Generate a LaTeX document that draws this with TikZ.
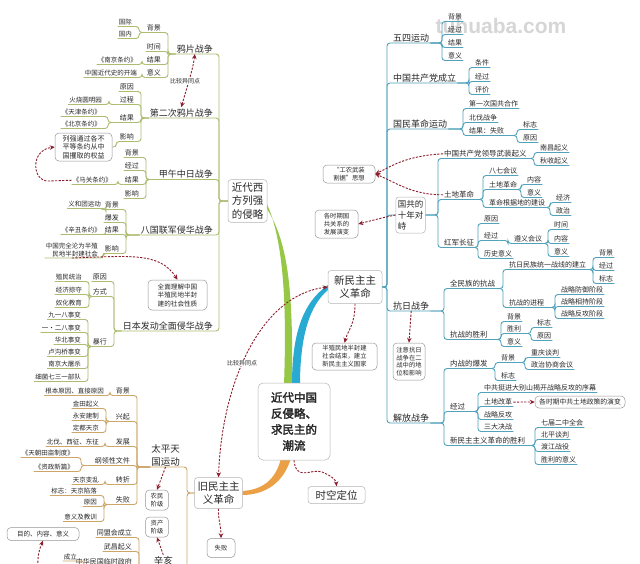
\documentclass[tikz,border=0pt]{standalone}
\usepackage{fontspec}
\setmainfont{Noto Sans CJK SC}
\newfontfamily\cjkb{Noto Sans CJK SC}[FakeBold=2.5]
\newfontfamily\wmfont{Liberation Sans}
\usetikzlibrary{calc,arrows.meta}
\definecolor{lgreen}{RGB}{172,188,112}
\definecolor{lblue}{RGB}{82,162,188}
\definecolor{lorange}{RGB}{204,166,104}
\definecolor{dred}{RGB}{140,30,45}
\definecolor{tx}{RGB}{40,40,40}
\definecolor{bxc}{RGB}{150,150,150}
\definecolor{bandg}{RGB}{150,200,70}
\definecolor{bandb}{RGB}{40,170,210}
\definecolor{bando}{RGB}{235,160,70}
\newcommand{\fs}[2]{\fontsize{#1}{#2}\selectfont}
\newcommand{\Lk}[4][5]{\draw[#2] (#3) -| ($(#4.south east)+(#1,0)$) -- (#4.south west);}
\newcommand{\Rk}[4][5]{\draw[#2] (#3) -| ($(#4.south west)+(-#1,0)$) -- (#4.south east);}
\begin{document}
\begin{tikzpicture}[x=1pt,y=-1pt,
 every node/.style={text=tx, inner xsep=1pt, inner ysep=1pt},
 LL/.style={anchor=south east}, RR/.style={anchor=south west},
 fA/.style={font=\fs{9}{11}},
 fB/.style={font=\fs{7.5}{9}},
 fC/.style={font=\fs{7}{8.5}},
 fD/.style={font=\fs{6.5}{8}},
 lg/.style={draw=lgreen, line width=0.9pt, rounded corners=3pt},
 bl/.style={draw=lblue, line width=0.9pt, rounded corners=3pt},
 ol/.style={draw=lorange, line width=0.9pt, rounded corners=3pt},
 lvbox/.style={draw=bxc!70, line width=0.5pt, rounded corners=3pt, fill=white, align=center, font=\fs{10.5}{13.5}, inner sep=3pt},
 cbox/.style={draw=bxc!70, line width=0.5pt, rounded corners=5pt, fill=white, align=center, font=\cjkb\fs{11.5}{16}, minimum width=72, minimum height=77},
 abox/.style={draw=bxc, line width=0.5pt, rounded corners=4pt, fill=white, align=center, font=\fs{6.3}{7.8}, inner xsep=3pt, inner ysep=2pt},
 lbl/.style={fill=white, font=\fs{6}{7}, inner sep=0.5pt},
 da/.style={draw=dred, line width=0.9pt, dash pattern=on 2.2pt off 1.4pt, -{Stealth[length=5pt,width=4.5pt]}},
 dda/.style={draw=dred, line width=0.9pt, dash pattern=on 2.2pt off 1.4pt, {Stealth[length=5pt,width=4.5pt]}-{Stealth[length=5pt,width=4.5pt]}}
]
\useasboundingbox (0,0) rectangle (640,563);
\fill[white] (0,0) rectangle (640,563);
% watermark
\node[text=gray!40, opacity=0.8, font=\wmfont\bfseries\fs{21}{21}] (wm) at (501,26) {tuhuaba.com};
% bands
\fill[bandg] (284,385) .. controls (287,300) and (283,240) .. (267,204) -- (267,209) .. controls (290,245) and (293,300) .. (292,385) -- cycle;
\fill[bandb] (292,385) .. controls (292,335) and (302,303) .. (328,285) -- (328,290) .. controls (310,305) and (300,335) .. (300,385) -- cycle;
\fill[bando] (281,458) .. controls (276,480) and (262,490) .. (242,491) -- (242,495) .. controls (266,495) and (284,482) .. (291,458) -- cycle;

% ===== main boxes
\node[cbox] (ct) at (294,421.5) {近代中国\\反侵略、\\求民主的\\潮流};
\node[lvbox, minimum width=39, minimum height=42] (jd) at (247.5,201) {近代西\\方列强\\的侵略};
\node[lvbox, minimum width=54, minimum height=33] (xm) at (355,287) {新民主主\\义革命};
\node[lvbox, minimum width=48, minimum height=31] (jm) at (218.5,493) {旧民主主\\义革命};
\node[lvbox, font=\fs{10.5}{12}, minimum width=57, minimum height=17, inner sep=1pt] (sk) at (336.5,495) {时空定位};
\node[abox, minimum width=28, minimum height=19] (sb) at (221,548) {失败};
\node[abox, font=\fs{6.3}{8}, minimum width=65, minimum height=27] (bzm) at (344.5,356.5) {半殖民地半封建\\社会结束，建立\\新民主主义国家};

% ===== left upper branch
\node[fA,LL] (yp) at (214,54) {鸦片战争};
\node[fA,LL] (de) at (214,118) {第二次鸦片战争};
\node[fA,LL] (jw) at (214,179.5) {甲午中日战争};
\node[fA,LL] (bg) at (214,235) {八国联军侵华战争};
\node[fA,LL] (rb) at (214,331) {日本发动全面侵华战争};
\Lk{lg}{jd.west}{yp}
\Lk{lg}{jd.west}{de}
\Lk{lg}{jd.west}{jw}
\Lk{lg}{jd.west}{bg}
\Lk{lg}{jd.west}{rb}

\node[fC,LL] (yp1) at (162,32.5) {背景};
\node[fC,LL] (yp2) at (162,51.5) {时间};
\node[fC,LL] (yp3) at (162,64.5) {结果};
\node[fC,LL] (yp4) at (162,77.5) {意义};
\node[fD,LL] (yp11) at (133,26.5) {国际};
\node[fD,LL] (yp12) at (133,38.5) {国内};
\node[fD,LL] (yp31) at (138,64.5) {《南京条约》};
\node[fD,LL] (yp41) at (138,77.5) {中国近代史的开端};
\Lk[6]{lg}{yp.south west}{yp1}
\Lk[6]{lg}{yp.south west}{yp2}
\Lk[6]{lg}{yp.south west}{yp3}
\Lk[6]{lg}{yp.south west}{yp4}
\Lk[6]{lg}{yp1.south west}{yp11}
\Lk[6]{lg}{yp1.south west}{yp12}
\Lk[4]{lg}{yp3.south west}{yp31}
\Lk[4]{lg}{yp4.south west}{yp41}

\node[fC,LL] (de1) at (135,91.5) {原因};
\node[fC,LL] (de2) at (135,104.5) {过程};
\node[fC,LL] (de3) at (135,122.5) {结果};
\node[fC,LL] (de4) at (135,141.5) {影响};
\node[fD,LL] (de21) at (103,104.5) {火烧圆明园};
\node[fD,LL] (de31) at (102,116.5) {《天津条约》};
\node[fD,LL] (de32) at (102,128.5) {《北京条约》};
\node[abox, font=\fs{7}{8.5}, minimum width=57, minimum height=28] (lq) at (83.5,147) {列强通过各不\\平等条约从中\\国攫取的权益};
\Lk[6]{lg}{de.south west}{de1}
\Lk[6]{lg}{de.south west}{de2}
\Lk[6]{lg}{de.south west}{de3}
\Lk[6]{lg}{de.south west}{de4}
\Lk[6]{lg}{de2.south west}{de21}
\Lk[6]{lg}{de3.south west}{de31}
\Lk[6]{lg}{de3.south west}{de32}
\draw[lg] (de4.south west) -| ($(lq.east)+(4,0)$) -- (lq.east);

\node[fC,LL] (jw1) at (140,157.5) {背景};
\node[fC,LL] (jw2) at (140,170.5) {经过};
\node[fC,LL] (jw3) at (140,184.5) {结果};
\node[fC,LL] (jw4) at (140,198.5) {影响};
\node[fD,LL] (jw31) at (113,184.5) {《马关条约》};
\Lk[6]{lg}{jw.south west}{jw1}
\Lk[6]{lg}{jw.south west}{jw2}
\Lk[6]{lg}{jw.south west}{jw3}
\Lk[6]{lg}{jw.south west}{jw4}
\Lk[5]{lg}{jw3.south west}{jw31}

\node[fC,LL] (bg1) at (120,209.5) {背景};
\node[fC,LL] (bg2) at (120,222.5) {爆发};
\node[fC,LL] (bg3) at (120,234.5) {结果};
\node[fC,LL] (bg4) at (120,253.5) {影响};
\node[fD,LL] (bg11) at (102,208.5) {义和团运动};
\node[fD,LL] (bg31) at (102,234.5) {《辛丑条约》};
\node[fD,LL,align=right] (bg41) at (99,258) {中国完全沦为半殖\\民地半封建社会};
\Lk[6]{lg}{bg.south west}{bg1}
\Lk[6]{lg}{bg.south west}{bg2}
\Lk[6]{lg}{bg.south west}{bg3}
\Lk[6]{lg}{bg.south west}{bg4}
\Lk[4]{lg}{bg1.south west}{bg11}
\Lk[4]{lg}{bg3.south west}{bg31}
\Lk[4]{lg}{bg4.south west}{bg41}
\node[abox, font=\fs{6.6}{8.5}, minimum width=59, minimum height=30] (qm) at (177.5,295) {全面理解中国\\半殖民地半封\\建的社会性质};

\node[fC,LL] (rb1) at (108,281.5) {原因};
\node[fC,LL] (rb2) at (108,296.5) {方式};
\node[fC,LL] (rb3) at (108,346.5) {暴行};
\node[fD,LL] (rb21) at (83,281.5) {殖民统治};
\node[fD,LL] (rb22) at (83,294.5) {经济掠夺};
\node[fD,LL] (rb23) at (83,307.5) {奴化教育};
\node[fD,LL] (rb31) at (82,319.5) {九一八事变};
\node[fD,LL] (rb32) at (82,332.5) {一·二八事变};
\node[fD,LL] (rb33) at (82,344.5) {华北事变};
\node[fD,LL] (rb34) at (82,356.5) {卢沟桥事变};
\node[fD,LL] (rb35) at (82,368.5) {南京大屠杀};
\node[fD,LL] (rb36) at (82,381.5) {细菌七三一部队};
\Lk[6]{lg}{rb.south west}{rb1}
\Lk[6]{lg}{rb.south west}{rb2}
\Lk[6]{lg}{rb.south west}{rb3}
\Lk[6]{lg}{rb2.south west}{rb21}
\Lk[6]{lg}{rb2.south west}{rb22}
\Lk[6]{lg}{rb2.south west}{rb23}
\Lk[6]{lg}{rb3.south west}{rb31}
\Lk[6]{lg}{rb3.south west}{rb32}
\Lk[6]{lg}{rb3.south west}{rb33}
\Lk[6]{lg}{rb3.south west}{rb34}
\Lk[6]{lg}{rb3.south west}{rb35}
\Lk[6]{lg}{rb3.south west}{rb36}

% ===== old democratic revolution
\node[LL, font=\fs{9.5}{13}, align=center] (tp) at (181,467) {太平天\\国运动};
\node[LL, font=\fs{9.5}{13}, align=center] (xh) at (174,579) {辛亥\\革命};
\Lk[6]{ol}{jm.west}{tp}
\Lk[13]{ol}{jm.west}{xh}
\node[fC,LL] (tp1) at (131,395.5) {背景};
\node[fC,LL] (tp2) at (131,421.5) {兴起};
\node[fC,LL] (tp3) at (131,446.5) {发展};
\node[fC,LL] (tp4) at (131,465.5) {纲领性文件};
\node[fC,LL] (tp5) at (131,484.5) {转折};
\node[fC,LL] (tp6) at (131,504.5) {失败};
\node[fD,LL] (tp11) at (105,395.5) {根本原因、直接原因};
\node[fD,LL] (tp21) at (100,408.5) {金田起义};
\node[fD,LL] (tp22) at (100,420.5) {永安建制};
\node[fD,LL] (tp23) at (100,432.5) {定都天京};
\node[fD,LL] (tp31) at (100,446.5) {北伐、西征、东征};
\node[fD,LL] (tp41) at (75,457.5) {《天朝田亩制度》};
\node[fD,LL] (tp42) at (75,471.5) {《资政新篇》};
\node[fD,LL] (tp51) at (100,484.5) {天京变乱};
\node[fD,LL] (tp61) at (98,495.5) {标志：天京陷落};
\node[fD,LL] (tp62) at (98,506.5) {原因};
\node[fD,LL] (tp63) at (98,521.5) {意义及教训};
\Lk[6]{ol}{tp.south west}{tp1}
\Lk[6]{ol}{tp.south west}{tp2}
\Lk[6]{ol}{tp.south west}{tp3}
\Lk[6]{ol}{tp.south west}{tp4}
\Lk[6]{ol}{tp.south west}{tp5}
\Lk[6]{ol}{tp.south west}{tp6}
\Lk[5]{ol}{tp1.south west}{tp11}
\Lk[6]{ol}{tp2.south west}{tp21}
\Lk[6]{ol}{tp2.south west}{tp22}
\Lk[6]{ol}{tp2.south west}{tp23}
\Lk[5]{ol}{tp3.south west}{tp31}
\Lk[6]{ol}{tp4.south west}{tp41}
\Lk[6]{ol}{tp4.south west}{tp42}
\Lk[5]{ol}{tp5.south west}{tp51}
\Lk[6]{ol}{tp6.south west}{tp61}
\Lk[6]{ol}{tp6.south west}{tp62}
\Lk[6]{ol}{tp6.south west}{tp63}
\node[fC,LL] (xh1) at (133,537.5) {同盟会成立};
\node[fC,LL] (xh2) at (133,551.5) {武昌起义};
\node[fC,LL] (xh3) at (133,566.5) {中华民国临时政府};
\node[fD,LL] (xh31) at (78,561) {成立};
\Lk[6]{ol}{xh.south west}{xh1}
\Lk[6]{ol}{xh.south west}{xh2}
\Lk[6]{ol}{xh.south west}{xh3}
\Lk[6]{ol}{xh3.south west}{xh31}
\node[abox, minimum width=23, minimum height=20, inner xsep=2pt] (nm) at (157,500) {农民\\阶级};
\node[abox, minimum width=23, minimum height=20, inner xsep=2pt] (zc) at (157,527) {资产\\阶级};
\node[abox, font=\fs{6.5}{8}, minimum width=72, minimum height=13, inner ysep=1pt] (mdn) at (43,534) {目的、内容、意义};
\coordinate (cl0) at (38,570);

% ===== right branch (new democratic revolution)
\node[fA,RR] (wusi) at (392,43) {五四运动};
\node[fA,RR] (gcd) at (392,83) {中国共产党成立};
\node[fA,RR] (gm) at (392,129) {国民革命运动};
\node[lvbox, font=\fs{8.5}{11}, align=left, minimum width=29, minimum height=36, inner sep=2pt] (gg) at (410.5,215) {国共的\\十年对\\峙};
\node[fA,RR] (kr) at (392,311) {抗日战争};
\node[fA,RR] (jf) at (392,423) {解放战争};
\Rk{bl}{xm.east}{wusi}
\Rk{bl}{xm.east}{gcd}
\Rk{bl}{xm.east}{gm}
\draw[bl] (xm.east) -| (387,215) -- (gg.west);
\Rk{bl}{xm.east}{kr}
\Rk{bl}{xm.east}{jf}

\node[fC,RR] (w1) at (447,21.5) {背景};
\node[fC,RR] (w2) at (447,34.5) {经过};
\node[fC,RR] (w3) at (447,47.5) {结果};
\node[fC,RR] (w4) at (447,60.5) {意义};
\Rk{bl}{wusi.south east}{w1}
\Rk{bl}{wusi.south east}{w2}
\Rk{bl}{wusi.south east}{w3}
\Rk{bl}{wusi.south east}{w4}

\node[fC,RR] (c1) at (474,67.5) {条件};
\node[fC,RR] (c2) at (474,81.5) {经过};
\node[fC,RR] (c3) at (474,94.5) {评价};
\Rk{bl}{gcd.south east}{c1}
\Rk{bl}{gcd.south east}{c2}
\Rk{bl}{gcd.south east}{c3}

\node[fC,RR] (gm1) at (468,108.5) {第一次国共合作};
\node[fC,RR] (gm2) at (468,122.5) {北伐战争};
\node[fC,RR] (gm3) at (468,135.5) {结果：失败};
\node[fC,RR] (gm31) at (522,129.5) {标志};
\node[fC,RR] (gm32) at (522,142.5) {原因};
\Rk{bl}{gm.south east}{gm1}
\Rk{bl}{gm.south east}{gm2}
\Rk{bl}{gm.south east}{gm3}
\Rk{bl}{gm3.south east}{gm31}
\Rk{bl}{gm3.south east}{gm32}

\node[fB,RR] (gg1) at (443,158.5) {中国共产党领导武装起义};
\node[fB,RR] (gg2) at (443,199.5) {土地革命};
\node[fB,RR] (gg3) at (443,247.5) {红军长征};
\draw[bl] (gg.east) -| (438,158.5) -- (gg1.south east);
\draw[bl] (gg.east) -| (438,199.5) -- (gg2.south east);
\draw[bl] (gg.east) -| (438,247.5) -- (gg3.south east);
\node[fC,RR] (g11) at (539,152.5) {南昌起义};
\node[fC,RR] (g12) at (539,165.5) {秋收起义};
\Rk{bl}{gg1.south east}{g11}
\Rk{bl}{gg1.south east}{g12}
\node[fC,RR] (t1) at (488,175.5) {八七会议};
\node[fC,RR] (t2) at (488,189.5) {土地革命};
\node[fC,RR] (t3) at (488,207.5) {革命根据地的建设};
\Rk{bl}{gg2.south east}{t1}
\Rk{bl}{gg2.south east}{t2}
\Rk{bl}{gg2.south east}{t3}
\node[fC,RR] (t21) at (526,184.5) {内容};
\node[fC,RR] (t22) at (526,197.5) {意义};
\Rk{bl}{t2.south east}{t21}
\Rk{bl}{t2.south east}{t22}
\node[fC,RR] (t31) at (555,202.5) {经济};
\node[fC,RR] (t32) at (555,215.5) {政治};
\Rk{bl}{t3.south east}{t31}
\Rk{bl}{t3.south east}{t32}
\node[fC,RR] (h1) at (483,223.5) {原因};
\node[fC,RR] (h2) at (483,240.5) {经过};
\node[fC,RR] (h3) at (483,258.5) {历史意义};
\Rk{bl}{gg3.south east}{h1}
\Rk{bl}{gg3.south east}{h2}
\Rk{bl}{gg3.south east}{h3}
\node[fC,RR] (zy) at (513,243.5) {遵义会议};
\Rk{bl}{h2.south east}{zy}
\node[fC,RR] (zy1) at (553,229.5) {时间};
\node[fC,RR] (zy2) at (553,243.5) {内容};
\node[fC,RR] (zy3) at (553,256.5) {意义};
\Rk{bl}{zy.south east}{zy1}
\Rk{bl}{zy.south east}{zy2}
\Rk{bl}{zy.south east}{zy3}

\node[fB,RR] (k1) at (449,288.5) {全民族的抗战};
\node[fB,RR] (k2) at (449,339.5) {抗战的胜利};
\Rk{bl}{kr.south east}{k1}
\Rk{bl}{kr.south east}{k2}
\node[fC,RR] (k11) at (508,269.5) {抗日民族统一战线的建立};
\node[fC,RR] (k12) at (508,307.5) {抗战的进程};
\Rk{bl}{k1.south east}{k11}
\Rk{bl}{k1.south east}{k12}
\node[fC,RR] (k111) at (598,257.5) {背景};
\node[fC,RR] (k112) at (598,270.5) {经过};
\node[fC,RR] (k113) at (598,283.5) {标志};
\Rk{bl}{k11.south east}{k111}
\Rk{bl}{k11.south east}{k112}
\Rk{bl}{k11.south east}{k113}
\node[fC,RR] (k121) at (560,294.5) {战略防御阶段};
\node[fC,RR] (k122) at (560,306.5) {战略相持阶段};
\node[fC,RR] (k123) at (560,318.5) {战略反攻阶段};
\Rk{bl}{k12.south east}{k121}
\Rk{bl}{k12.south east}{k122}
\Rk{bl}{k12.south east}{k123}
\node[fC,RR] (k21) at (506,321.5) {背景};
\node[fC,RR] (k22) at (506,333.5) {胜利};
\node[fC,RR] (k23) at (506,346.5) {意义};
\Rk{bl}{k2.south east}{k21}
\Rk{bl}{k2.south east}{k22}
\Rk{bl}{k2.south east}{k23}
\node[fC,RR] (k221) at (536,327.5) {标志};
\node[fC,RR] (k222) at (536,340.5) {原因};
\Rk{bl}{k22.south east}{k221}
\Rk{bl}{k22.south east}{k222}
\node[abox, minimum width=32, minimum height=37, inner xsep=2pt] (zyb) at (409,361.5) {注意抗日\\战争在二\\战中的地\\位和影响};

\node[fB,RR] (j1) at (449,368.5) {内战的爆发};
\node[fB,RR] (j2) at (449,411.5) {经过};
\node[fB,RR] (j3) at (449,445.5) {新民主主义革命的胜利};
\Rk{bl}{jf.south east}{j1}
\Rk{bl}{jf.south east}{j2}
\Rk{bl}{jf.south east}{j3}
\node[fC,RR] (j11) at (500,362.5) {背景};
\node[fC,RR] (j12) at (500,380.5) {标志};
\Rk{bl}{j1.south east}{j11}
\Rk{bl}{j1.south east}{j12}
\node[fC,RR] (j111) at (530,357.5) {重庆谈判};
\node[fC,RR] (j112) at (530,369.5) {政治协商会议};
\Rk{bl}{j11.south east}{j111}
\Rk{bl}{j11.south east}{j112}
\node[fC,RR] (j21) at (483,392.5) {中共挺进大别山揭开战略反攻的序幕};
\node[fC,RR] (j22) at (483,406.5) {土地改革};
\node[fC,RR] (j23) at (483,419.5) {战略反攻};
\node[fC,RR] (j24) at (483,431.5) {三大决战};
\Rk{bl}{j2.south east}{j21}
\Rk{bl}{j2.south east}{j22}
\Rk{bl}{j2.south east}{j23}
\Rk{bl}{j2.south east}{j24}
\node[fC,RR] (j31) at (540,427.5) {七届二中全会};
\node[fC,RR] (j32) at (540,439.5) {北平谈判};
\node[fC,RR] (j33) at (540,451.5) {渡江战役};
\node[fC,RR] (j34) at (540,464.5) {胜利的意义};
\Rk{bl}{j3.south east}{j31}
\Rk{bl}{j3.south east}{j32}
\Rk{bl}{j3.south east}{j33}
\Rk{bl}{j3.south east}{j34}
\node[abox, font=\fs{6.8}{8}, minimum width=90, minimum height=12, inner ysep=1pt] (td) at (580,402) {各时期中共土地政策的演变};
\node[abox, minimum width=52, minimum height=18, inner ysep=1pt] (gn) at (349,174) {“工农武装\\割据”思想};
\node[abox, minimum width=43, minimum height=28] (gx) at (336.5,224) {各时期国\\共关系的\\发展演变};

% ===== dashed arrows
\draw[dda] (yp.south) .. controls (193,70) and (186,90) .. (de.north);
\node[lbl] (bj1) at (185,81) {比较异同点};
\draw[dda] (xm.west) .. controls (262,295) and (222,380) .. (jm.north);
\node[lbl] (bj2) at (242,363) {比较异同点};
\draw[da] (jw31.west) -- (48,181) .. controls (32,181) and (30,150) .. (lq.west);
\draw[da] (bg41.south) .. controls (130,256) and (160,252) .. (qm.north);
\draw[da] (xm.south) .. controls (355,325) and (348,330) .. (bzm.north);
\draw[da] (ct.south) .. controls (296,482) and (312,468) .. (322,472) .. controls (332,476) and (336,480) .. (sk.north);
\draw[da] (jm.south) .. controls (218,520) and (221,525) .. (sb.north);
\draw[da] (tp.south) -- (nm.north);
\draw[da] (xh.north) -- (zc.south);
\draw[da] (cl0) .. controls (37,555) and (40,548) .. (mdn.south);
\draw[da] (gg1.west) .. controls (405,156) and (392,166) .. (gn.east);
\draw[da] (gg2.west) .. controls (412,195) and (395,182) .. (gn.east);
\draw[da] (gg.west) .. controls (385,217) and (370,221) .. (gx.east);
\draw[da] (kr.south) -- (zyb.north);
\draw[da] (j22.east) -- (td.west);
\end{tikzpicture}
\end{document}
